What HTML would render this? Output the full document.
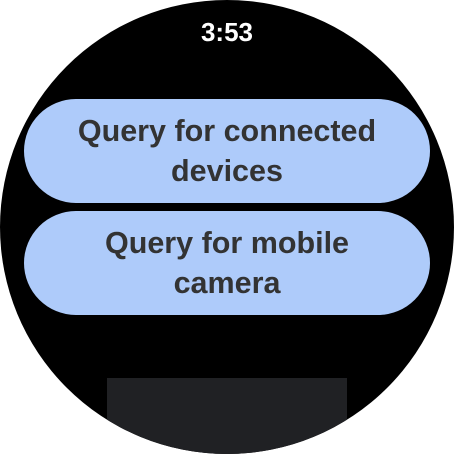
<!DOCTYPE html>
<html><head><meta charset="utf-8"><style>
html,body{margin:0;padding:0;background:#fff;}
.face{position:relative;width:454px;height:454px;border-radius:50%;background:#000;overflow:hidden;font-family:"Liberation Sans",Arial,sans-serif;}
.time{position:absolute;top:17px;left:0;width:454px;text-align:center;color:#fff;font-size:26px;font-weight:bold;line-height:30px;}
.btn{position:absolute;left:24px;width:406px;height:104px;border-radius:52px;background:#aecbfa;color:#333;font-weight:bold;font-size:30.5px;line-height:40px;text-align:center;display:flex;align-items:center;justify-content:center;}
.b1{top:99px}.b2{top:211px}
.bot{position:absolute;left:107px;top:378px;width:240px;height:80px;background:#202124;}
</style></head><body>
<div class="face">
<div class="time">3:53</div>
<div class="btn b1"><div>Query for connected<br>devices</div></div>
<div class="btn b2"><div>Query for mobile<br>camera</div></div>
<div class="bot"></div>
</div>
</body></html>
